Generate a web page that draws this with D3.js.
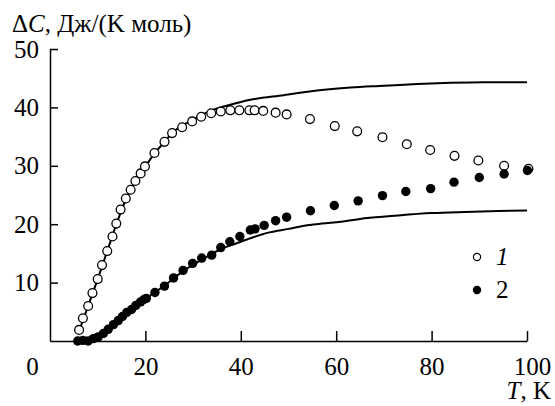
<!DOCTYPE html>
<html>
<head>
<meta charset="utf-8">
<script src="https://cdn.jsdelivr.net/npm/d3@7"></script>
<style>
  html, body { margin: 0; padding: 0; background: #fff; }
  svg { display: block; }
  .lbl { font-family: "Liberation Serif"; font-size: 25px; fill: #000; }
  .it { font-style: italic; }
</style>
</head>
<body>
<svg id="chart" width="555" height="406"></svg>
<script>
// Series 1 (open circles): excess heat capacity vs temperature
const openT = [6.1, 6.9, 8.0, 8.9, 10.0, 10.9, 12.0, 13.1, 13.9, 14.8, 15.9, 16.9, 17.9, 19.0, 19.9, 21.9, 24.0, 25.6, 27.7, 29.8, 31.7, 33.8, 35.8, 37.8, 39.7, 41.8, 42.9, 44.7, 47.3, 49.6, 54.5, 59.7, 64.4, 69.7, 74.8, 79.7, 84.8, 89.8, 95.2, 100.3];
const openC = [1.9, 3.9, 6.0, 8.2, 10.6, 13.0, 15.4, 17.9, 20.1, 22.5, 24.4, 25.9, 27.4, 28.7, 29.9, 32.2, 34.1, 35.6, 36.6, 37.6, 38.4, 39.0, 39.3, 39.5, 39.5, 39.5, 39.5, 39.4, 39.1, 38.8, 38.0, 36.8, 35.9, 34.9, 33.7, 32.7, 31.7, 30.9, 30.0, 29.5];

// Series 2 (filled circles)
const filledT = [5.8, 6.9, 8.0, 9.1, 10.1, 11.2, 12.2, 13.3, 14.3, 15.2, 16.1, 17.1, 18.0, 19.0, 19.7, 20.2, 22.0, 24.0, 25.9, 27.9, 29.9, 31.8, 33.9, 35.8, 37.7, 39.8, 42.0, 43.0, 44.9, 47.3, 49.6, 54.6, 59.6, 64.6, 69.7, 74.6, 79.8, 84.7, 90.0, 95.2, 100.1];
const filledC = [0.0, 0.1, 0.0, 0.4, 0.7, 1.3, 2.0, 2.8, 3.5, 4.2, 4.9, 5.4, 6.1, 6.7, 7.1, 7.3, 8.3, 9.4, 10.8, 12.1, 13.3, 14.2, 14.7, 16.0, 17.0, 17.9, 19.0, 19.2, 19.8, 20.6, 21.2, 22.3, 23.2, 24.0, 24.9, 25.6, 26.1, 27.2, 28.0, 28.6, 29.2];

// Model curves (solid lines)
const line1T = [6, 8, 10, 12, 14, 16, 18, 20, 22, 24, 26, 28, 30, 32, 35, 38, 42, 49, 56, 63, 70, 77, 84, 91, 100];
const line1C = [1.5, 6.0, 10.6, 15.4, 20.2, 24.4, 27.5, 29.9, 32.2, 34.1, 35.9, 37.0, 37.9, 38.8, 39.8, 40.5, 41.3, 42.1, 42.9, 43.4, 43.7, 44.0, 44.2, 44.3, 44.3];
const line2T = [6, 8, 10, 12, 14, 16, 18, 20, 24, 28, 32, 36, 39, 42, 46, 50, 53, 57, 61, 66, 73, 80, 87, 94, 100];
const line2C = [0.0, 0.1, 0.6, 1.8, 3.3, 4.8, 6.1, 7.2, 9.5, 12.0, 14.0, 15.8, 16.7, 17.6, 18.6, 19.2, 19.7, 20.1, 20.4, 21.0, 21.5, 21.9, 22.1, 22.25, 22.35];

// Axis ticks and labels
const xTicks = [0, 20, 40, 60, 80, 100];
const yTicks = [10, 20, 30, 40, 50];
const legendLabels = ["1", "2"];

const svg = d3.select("#chart");
const x = d3.scaleLinear().domain([0, 100]).range([50, 527]);
const y = d3.scaleLinear().domain([0, 50]).range([341, 49]);

const zip = (a, b) => a.map((v, i) => [v, b[i]]);

// Axes (ticks point inward)
const xAxis = svg.append("g")
  .attr("transform", `translate(0,${y(0)})`)
  .call(d3.axisBottom(x).tickValues(xTicks).tickSizeInner(-10).tickSizeOuter(0).tickPadding(16));
const yAxis = svg.append("g")
  .attr("transform", `translate(${x(0)},0)`)
  .call(d3.axisLeft(y).tickValues(yTicks).tickSizeInner(-8).tickSizeOuter(0).tickPadding(11));

[xAxis, yAxis].forEach(g => {
  g.attr("font-family", null).attr("font-size", null);
  g.selectAll("path.domain").attr("stroke", "#000").attr("stroke-width", 1.5);
  g.selectAll(".tick line").attr("stroke", "#000").attr("stroke-width", 1.5);
  g.selectAll(".tick text").attr("class", "lbl").attr("fill", null);
});
xAxis.selectAll(".tick").filter(d => d === 0).select("line").remove();
xAxis.selectAll(".tick").filter(d => d === 0).select("text").attr("x", -18);
xAxis.selectAll(".tick").filter(d => d === 100).select("text").attr("x", 5);

// Curves
const lineGen = d3.line().x(d => x(d[0])).y(d => y(d[1])).curve(d3.curveMonotoneX);
[zip(line1T, line1C), zip(line2T, line2C)].forEach(pts => {
  svg.append("path")
    .attr("d", lineGen(pts))
    .attr("fill", "none")
    .attr("stroke", "#000")
    .attr("stroke-width", 2);
});

// Points: open series, then filled series on top
svg.append("g").selectAll("circle")
  .data(zip(openT, openC)).join("circle")
  .attr("cx", d => x(d[0])).attr("cy", d => y(d[1])).attr("r", 4.4)
  .attr("fill", "#fff").attr("stroke", "#000").attr("stroke-width", 1.3);
svg.append("g").selectAll("circle")
  .data(zip(filledT, filledC)).join("circle")
  .attr("cx", d => x(d[0])).attr("cy", d => y(d[1])).attr("r", 4.7)
  .attr("fill", "#000");

// Legend
const leg = svg.append("g");
leg.append("circle").attr("cx", 477).attr("cy", 257).attr("r", 3.6)
  .attr("fill", "#fff").attr("stroke", "#000").attr("stroke-width", 1.2);
leg.append("circle").attr("cx", 477).attr("cy", 290).attr("r", 4.2).attr("fill", "#000");
leg.selectAll("text").data(legendLabels).join("text")
  .attr("class", (d, i) => i === 0 ? "lbl it" : "lbl")
  .attr("x", 496).attr("y", (d, i) => 265 + i * 33)
  .text(d => d);

// Axis titles
const yTitle = svg.append("text").attr("class", "lbl").attr("x", 12).attr("y", 32);
yTitle.append("tspan").text("Δ");
yTitle.append("tspan").attr("class", "it").text("C");
yTitle.append("tspan").text(", Дж/(K моль)");

const xTitle = svg.append("text").attr("class", "lbl")
  .attr("x", 551).attr("y", 399).attr("text-anchor", "end");
xTitle.append("tspan").attr("class", "it").text("T");
xTitle.append("tspan").text(", K");
</script>
</body>
</html>
